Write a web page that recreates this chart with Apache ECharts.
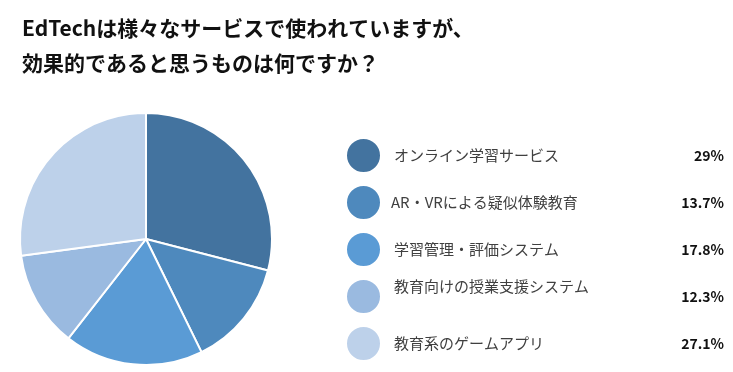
<!DOCTYPE html>
<html><head><meta charset="utf-8">
<script src="https://cdn.jsdelivr.net/npm/echarts@6/dist/echarts.min.js"></script>
<style>html,body{margin:0;padding:0;background:#fff}#c{width:733px;height:372px}</style>
</head><body><div id="c"></div>
<script>
const categories = ['オンライン学習サービス', 'AR・VRによる疑似体験教育', '学習管理・評価システム', '教育向けの授業支援システム', '教育系のゲームアプリ'];
const values = [29, 13.7, 17.8, 12.3, 27.1];
const colors = ['#43739F', '#4E89BD', '#5A9BD5', '#9ABAE0', '#BDD1EA'];
const titleText = 'EdTechは様々なサービスで使われていますが、\n効果的であると思うものは何ですか？';

const chart = echarts.init(document.getElementById('c'));
const font = '"Noto Sans CJK JP", "Noto Sans", sans-serif';
chart.setOption({
  animation: false,
  color: colors,
  title: {
    text: titleText, left: 17, top: 6,
    textStyle: { fontFamily: font, fontSize: 21, fontWeight: 'bold', color: '#111', lineHeight: 35 }
  },
  legend: {
    orient: 'vertical', left: 340, top: 132, itemWidth: 35, itemHeight: 35, itemGap: 10,
    icon: 'circle', selectedMode: false, padding: 5,
    formatter: function (name) {
      const i = categories.indexOf(name);
      const nStyle = i === 3 ? 'nt' : (i === 1 ? 'n2' : 'n');
      return '{' + nStyle + '|' + name + '}{v|' + values[i] + '%}';
    },
    textStyle: {
      fontFamily: font,
      rich: {
        n: { width: 265, padding: [0, 0, 0, 8], fontSize: 15, color: '#404040', fontFamily: font, lineHeight: 36 },
        n2: { width: 268, padding: [0, 0, 0, 5], fontSize: 15, color: '#404040', fontFamily: font, lineHeight: 36 },
        nt: { width: 265, padding: [0, 0, 20, 8], fontSize: 15, color: '#404040', fontFamily: font, lineHeight: 16 },
        v: { width: 65, align: 'right', fontSize: 14, fontWeight: 'bold', color: '#111', fontFamily: font, lineHeight: 36 }
      }
    }
  },
  series: [{
    type: 'pie', center: [146, 239], radius: 126, startAngle: 90, clockwise: true,
    label: { show: false }, labelLine: { show: false },
    itemStyle: { borderColor: '#fff', borderWidth: 2 },
    emphasis: { disabled: true },
    data: categories.map((c, i) => ({ name: c, value: values[i] }))
  }]
});
</script></body></html>
